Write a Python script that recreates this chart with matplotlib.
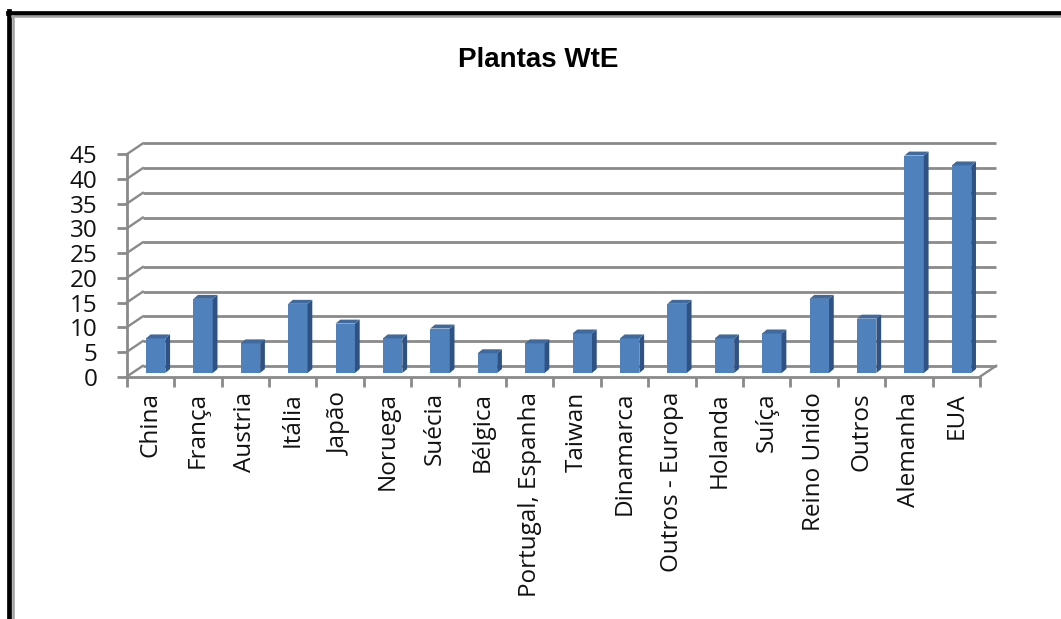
import matplotlib
matplotlib.use("Agg")
import matplotlib.pyplot as plt
from matplotlib.patches import Polygon
from matplotlib.lines import Line2D

# data
paises = ["China", "França", "Austria", "Itália", "Japão", "Noruega", "Suécia",
          "Bélgica", "Portugal, Espanha", "Taiwan", "Dinamarca", "Outros - Europa",
          "Holanda", "Suíça", "Reino Unido", "Outros", "Alemanha", "EUA"]
plantas = [7, 15, 6, 14, 10, 7, 9, 4, 6, 8, 7, 14, 7, 8, 15, 11, 44, 42]
y_ticks = [0, 5, 10, 15, 20, 25, 30, 35, 40, 45]

W, H = 1061, 619
GRID = "#8a8a8a"
FRONT = "#4f81bd"
SIDE = "#2f5283"
TOP = "#3d6aa1"

# fake 3d offsets (category units, value units)
wall_dx, wall_dy = 0.34, 2.2
bar_dx1, bar_dy1 = 0.11, 0.75
bar_dx2, bar_dy2 = 0.21, 1.55
bar_w = 0.41

fig = plt.figure(figsize=(W / 100, H / 100), dpi=100)
fig.patch.set_facecolor("white")
ax = fig.add_axes([126.7 / W, (H - 376.7) / H, (980 - 126.7) / W, (376.7 - 154.3) / H])
ax.set_xlim(-0.5, len(paises) - 0.5)
ax.set_ylim(0, 45)
ax.set_facecolor("none")

x0 = -0.5
x1 = len(paises) - 0.5

# back wall grid + side wall diagonals
for v in y_ticks:
    ax.plot([x0 + wall_dx, x1 + wall_dx], [v + wall_dy, v + wall_dy],
            color=GRID, lw=2.0, clip_on=False, zorder=1, solid_capstyle="butt")
    ax.plot([x0, x0 + wall_dx], [v, v + wall_dy], color=GRID, lw=1.7,
            clip_on=False, zorder=1)
# floor right edge
ax.plot([x1, x1 + wall_dx], [0, wall_dy], color=GRID, lw=1.7, clip_on=False, zorder=1)

# bars: front face, side and top
for i, val in enumerate(plantas):
    left = i - bar_w / 2 + bar_dx1
    right = left + bar_w
    ax.bar(i + bar_dx1, val, width=bar_w, bottom=bar_dy1, color=FRONT,
           edgecolor="none", zorder=3, clip_on=False)
    side = [(right, bar_dy1), (right + bar_dx2 - bar_dx1, bar_dy2),
            (right + bar_dx2 - bar_dx1, val + bar_dy2), (right, val + bar_dy1)]
    top = [(left, val + bar_dy1), (right, val + bar_dy1),
           (right + bar_dx2 - bar_dx1, val + bar_dy2), (left + bar_dx2 - bar_dx1, val + bar_dy2)]
    ax.add_patch(Polygon(side, closed=True, facecolor=SIDE, edgecolor="none",
                         zorder=3, clip_on=False))
    ax.add_patch(Polygon(top, closed=True, facecolor=TOP, edgecolor="none",
                         zorder=3, clip_on=False))

# axes
for s in ["top", "right"]:
    ax.spines[s].set_visible(False)
for s in ["left", "bottom"]:
    ax.spines[s].set_color(GRID)
    ax.spines[s].set_linewidth(2.0)
    ax.spines[s].set_zorder(2)

ax.set_yticks(y_ticks)
ax.set_yticklabels([str(v) for v in y_ticks])
ax.tick_params(axis="y", direction="out", length=7, width=2.0, color=GRID,
               pad=14, labelsize=17.5, labelcolor="#111111")

ax.set_xticks([i - 0.5 for i in range(len(paises) + 1)])
ax.set_xticklabels([])
ax.set_xticks(range(len(paises)), minor=True)
ax.set_xticklabels(paises, minor=True, rotation=90, va="top", ha="center")
ax.tick_params(axis="x", which="major", direction="out", length=7, width=2.0, color=GRID)
ax.tick_params(axis="x", which="minor", length=0, pad=11, labelsize=17.5, labelcolor="#111111")
for lab in ax.get_xticklabels(minor=True) + ax.get_yticklabels():
    lab.set_family("Open Sans")

fig.text(538.5 / W, 1 - 60 / H, "Plantas WtE", ha="center", va="center",
         fontsize=20, fontweight="bold", family="Liberation Sans")

# outer frame (black + grey inner line)
fig.add_artist(Line2D([9.3 / W, 9.3 / W], [0, 1 - 11 / H], color="black", lw=3.4))
fig.add_artist(Line2D([7.5 / W, 1], [1 - 13.3 / H, 1 - 13.3 / H], color="black", lw=3.4))
fig.add_artist(Line2D([13.2 / W, 13.2 / W], [0, 1 - 15.5 / H], color="#a0a0a0", lw=1.8))
fig.add_artist(Line2D([12.4 / W, 1], [1 - 16.4 / H, 1 - 16.4 / H], color="#a0a0a0", lw=1.8))

fig.savefig("out.png", dpi=100)
